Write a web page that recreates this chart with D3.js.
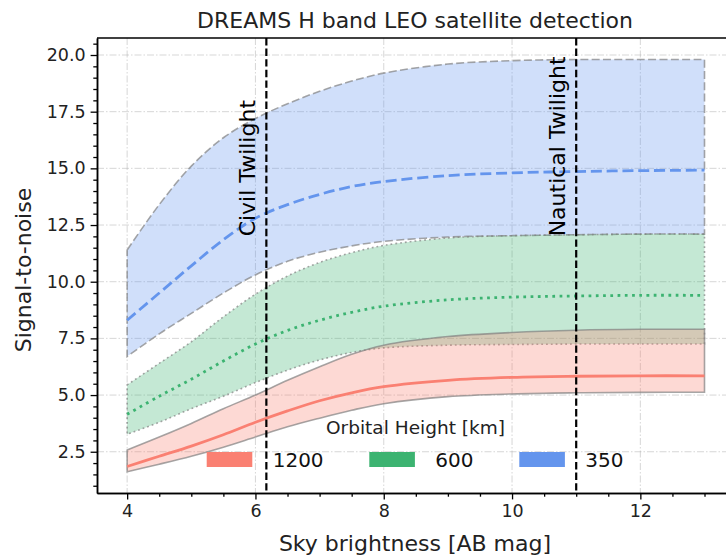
<!DOCTYPE html>
<html>
<head>
<meta charset="utf-8">
<script src="https://cdn.jsdelivr.net/npm/d3@7"></script>
<style>
  body { margin: 0; background: #fff; }
  svg { font-family: "DejaVu Sans", sans-serif; }
</style>
</head>
<body>
<svg id="chart" width="726" height="558"></svg>
<script>
// sky brightness samples [AB mag]
var skyMag = [4, 4.5, 5, 5.5, 6, 6.5, 7, 7.5, 8, 9, 10, 11, 12, 13];

// 350 km
var upper350 = [11.4, 13.4, 15.1, 16.35, 17.2, 17.85, 18.4, 18.85, 19.2, 19.6, 19.75, 19.8, 19.8, 19.8];
var mid350   = [8.3, 9.5, 10.7, 11.85, 12.8, 13.4, 13.85, 14.2, 14.42, 14.68, 14.8, 14.86, 14.9, 14.92];
var lower350 = [6.7, 7.7, 8.6, 9.5, 10.3, 10.9, 11.3, 11.58, 11.78, 11.97, 12.03, 12.07, 12.1, 12.1];
// 600 km
var upper600 = [5.45, 6.4, 7.35, 8.45, 9.45, 10.25, 10.85, 11.28, 11.6, 11.93, 12.03, 12.07, 12.1, 12.1];
var mid600   = [4.15, 4.95, 5.7, 6.5, 7.25, 7.85, 8.3, 8.65, 8.92, 9.2, 9.32, 9.37, 9.4, 9.4];
var lower600 = [3.27, 3.8, 4.4, 4.95, 5.55, 6.1, 6.55, 6.88, 7.08, 7.2, 7.23, 7.25, 7.25, 7.25];
// 1200 km
var upper1200 = [2.58, 3.15, 3.75, 4.4, 5.0, 5.65, 6.25, 6.8, 7.2, 7.58, 7.76, 7.86, 7.9, 7.9];
var mid1200   = [1.85, 2.3, 2.75, 3.25, 3.8, 4.3, 4.75, 5.1, 5.37, 5.65, 5.78, 5.83, 5.85, 5.85];
var lower1200 = [1.62, 1.95, 2.3, 2.7, 3.15, 3.6, 3.98, 4.33, 4.62, 4.93, 5.05, 5.1, 5.12, 5.13];

var heights = ["1200", "600", "350"];
var twilightMag = [6.17, 11.0];
var twilightNames = ["Civil Twilight", "Nautical Twilight"];

var xTicks = [4, 6, 8, 10, 12];
var yTicks = [2.5, 5.0, 7.5, 10.0, 12.5, 15.0, 17.5, 20.0];

var svg = d3.select("#chart");
var L = 97, T = 38, B = 493;

var x = d3.scaleLinear().domain([3.53, 13.47]).range([L, L + 9.94 * 64.15]);
var y = d3.scaleLinear().domain([0.68, 20.75]).range([B, T]);

// grid
var grid = svg.append("g");
grid.selectAll(".gx").data(xTicks).enter().append("line")
    .attr("x1", d => x(d)).attr("x2", d => x(d)).attr("y1", T).attr("y2", B)
    .style("stroke", "#b0b0b0").style("stroke-opacity", .5).style("stroke-width", 1)
    .style("stroke-dasharray", "7,2,1.5,2");
grid.selectAll(".gy").data(yTicks).enter().append("line")
    .attr("x1", L).attr("x2", 726).attr("y1", d => y(d)).attr("y2", d => y(d))
    .style("stroke", "#b0b0b0").style("stroke-opacity", .5).style("stroke-width", 1)
    .style("stroke-dasharray", "7,2,1.5,2");

function rows(lo, hi) {
    return skyMag.map(function(m, i) { return {m: m, lo: lo[i], hi: hi[i]}; });
}

var smooth = d3.curveCatmullRom.alpha(0.5);
var area = d3.area().curve(smooth)
    .x(d => x(d.m)).y0(d => y(d.lo)).y1(d => y(d.hi));
var line = d3.line().curve(smooth)
    .x(d => x(d[0])).y(d => y(d[1]));

var bands = [
    {lo: lower350, mid: mid350, hi: upper350, color: "#6495ED", edgeDash: "8,3.3", midDash: "11,4.8"},
    {lo: lower600, mid: mid600, hi: upper600, color: "#3CB371", edgeDash: "1.8,3", midDash: "2.75,4.5"},
    {lo: lower1200, mid: mid1200, hi: upper1200, color: "#FA8072", edgeDash: null, midDash: null}
];

bands.forEach(function(b) {
    var p = svg.append("path")
        .datum(rows(b.lo, b.hi))
        .attr("d", area)
        .style("fill", b.color)
        .style("fill-opacity", .3)
        .style("stroke", "#808080")
        .style("stroke-opacity", .7)
        .style("stroke-width", 1.6);
    if (b.edgeDash) p.style("stroke-dasharray", b.edgeDash);

    var m = svg.append("path")
        .datum(skyMag.map((v, i) => [v, b.mid[i]]))
        .attr("d", line)
        .style("fill", "none")
        .style("stroke", b.color)
        .style("stroke-width", 2.8);
    if (b.midDash) m.style("stroke-dasharray", b.midDash);
});

// twilight markers
twilightMag.forEach(function(v, i) {
    svg.append("line")
        .attr("x1", x(v)).attr("x2", x(v)).attr("y1", T).attr("y2", B)
        .style("stroke", "#000").style("stroke-width", 2.2)
        .style("stroke-dasharray", "7.4,3.2");
    svg.append("text")
        .attr("transform", "translate(" + (x(v) - 11.5) + "," + y(12) + ") rotate(-90)")
        .style("font-size", "22px").style("fill", "#000")
        .text(twilightNames[i]);
});

// axes
svg.append("g").attr("transform", "translate(0," + B + ")")
    .call(d3.axisBottom(x).tickValues(xTicks).tickSize(6.4).tickPadding(5).tickSizeOuter(0));
svg.append("g").attr("transform", "translate(0," + B + ")")
    .call(d3.axisBottom(x).tickValues(d3.range(4, 13.01, 0.5).filter(v => v % 2 != 0)).tickSize(3.7).tickFormat("").tickSizeOuter(0));
svg.append("g").attr("transform", "translate(" + L + ",0)")
    .call(d3.axisLeft(y).tickValues(yTicks).tickFormat(d3.format(".1f")).tickSize(6.4).tickPadding(5).tickSizeOuter(0));
svg.append("g").attr("transform", "translate(" + L + ",0)")
    .call(d3.axisLeft(y).tickValues(d3.range(1, 20.6, 0.5).filter(v => v % 2.5 != 0)).tickSize(3.7).tickFormat("").tickSizeOuter(0));

svg.selectAll(".domain").style("stroke", "#000").style("stroke-width", 1.5);
svg.selectAll(".tick line").style("stroke", "#000").style("stroke-width", 1.3);
svg.selectAll(".tick text").style("font-size", "17.5px").style("font-family", "DejaVu Sans").style("fill", "#222");

// top spine
svg.append("line").attr("x1", L).attr("x2", 726).attr("y1", T).attr("y2", T)
    .style("stroke", "#000").style("stroke-width", 1.5);

// titles
svg.append("text").attr("x", 415).attr("y", 28).attr("text-anchor", "middle")
    .style("font-size", "22px").style("fill", "#222").text("DREAMS H band LEO satellite detection");
svg.append("text").attr("x", 415).attr("y", 551).attr("text-anchor", "middle")
    .style("font-size", "22px").style("fill", "#222").text("Sky brightness [AB mag]");
svg.append("text").attr("transform", "translate(31,270) rotate(-90)").attr("text-anchor", "middle")
    .style("font-size", "22px").style("fill", "#222").text("Signal-to-noise");

// legend
var legendColors = ["#FA8072", "#3CB371", "#6495ED"];
var handleX = [206.7, 369.3, 519.3];
var leg = svg.append("g");
leg.append("text").attr("x", 415.5).attr("y", 434).attr("text-anchor", "middle")
    .style("font-size", "18.5px").style("fill", "#222").text("Orbital Height [km]");
heights.forEach(function(h, i) {
    leg.append("rect").attr("x", handleX[i]).attr("y", 452).attr("width", 45.6).attr("height", 15)
        .style("fill", legendColors[i]);
    leg.append("text").attr("x", handleX[i] + 66).attr("y", 467)
        .style("font-size", "20px").style("fill", "#111").text(h);
});
</script>
</body>
</html>
